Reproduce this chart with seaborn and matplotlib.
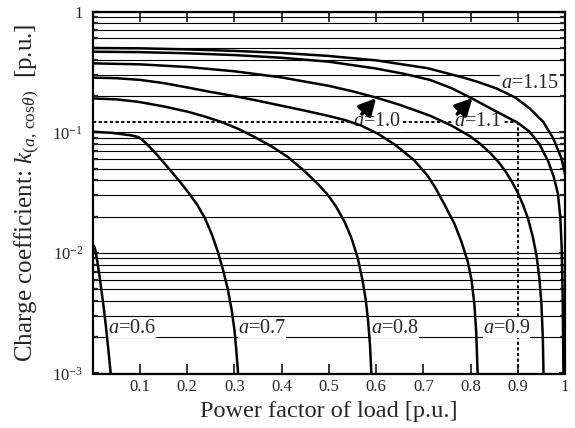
import numpy as np
import pandas as pd
import matplotlib
matplotlib.use("Agg")
import matplotlib.pyplot as plt
from matplotlib.ticker import FixedLocator, NullFormatter
import seaborn as sns

# Charge coefficient k(a, cos(theta)) versus load power factor, one curve per a
pf_060 = [0.0, 0.002, 0.004, 0.006, 0.008, 0.011, 0.0153, 0.020, 0.0245, 0.0287,
          0.032, 0.035, 0.038, 0.040]
k_060 = [0.0116, 0.0115, 0.0111, 0.0103, 0.0093, 0.0079, 0.0060, 0.0044, 0.0032, 0.0023,
         0.00172, 0.00132, 0.00100, 0.0008]

pf_070 = [0.0, 0.04, 0.08, 0.096, 0.105, 0.115, 0.131, 0.148, 0.166, 0.184, 0.2016,
          0.22, 0.237, 0.252, 0.265, 0.276, 0.286, 0.294, 0.300, 0.304, 0.307, 0.310]
k_070 = [0.101, 0.099, 0.0945, 0.0915, 0.0865, 0.0795, 0.0685, 0.0575, 0.0475, 0.0392, 0.0320,
         0.0255, 0.0196, 0.0143, 0.0102, 0.0072, 0.0050, 0.0034, 0.0023, 0.00155, 0.0011, 0.0007]

pf_080 = [0.0, 0.05, 0.096, 0.15, 0.2016, 0.24, 0.272, 0.31, 0.343, 0.38, 0.413, 0.445,
          0.477, 0.498, 0.515, 0.533, 0.548, 0.561, 0.571, 0.578, 0.583, 0.587, 0.590, 0.592]
k_080 = [0.191, 0.1875, 0.179, 0.164, 0.148, 0.134, 0.122, 0.106, 0.0912, 0.0759, 0.0624, 0.049,
         0.0372, 0.0302, 0.0243, 0.0182, 0.0132, 0.0091, 0.0060, 0.0041, 0.00275, 0.00174, 0.0010,
         0.00063]

pf_090 = [0.0, 0.05, 0.10, 0.15, 0.20, 0.25, 0.30, 0.343, 0.40, 0.45, 0.498, 0.535, 0.57,
          0.605, 0.639, 0.68, 0.709, 0.724, 0.745, 0.766, 0.78, 0.794, 0.802, 0.808, 0.812,
          0.815, 0.817]
k_090 = [0.284, 0.281, 0.272, 0.256, 0.2355, 0.216, 0.1995, 0.185, 0.166, 0.151, 0.137, 0.126,
         0.113, 0.0966, 0.0794, 0.059, 0.0437, 0.0355, 0.0251, 0.0174, 0.0126, 0.0085, 0.0060,
         0.0038, 0.0022, 0.0010, 0.0006]

pf_100 = [0.0, 0.10, 0.20, 0.30, 0.40, 0.50, 0.55, 0.60, 0.65, 0.714, 0.76, 0.80, 0.82,
          0.84, 0.86, 0.875, 0.889, 0.90, 0.912, 0.922, 0.932, 0.94, 0.946, 0.95, 0.953, 0.955]
k_100 = [0.373, 0.366, 0.348, 0.3206, 0.285, 0.2427, 0.2188, 0.194, 0.169, 0.1374, 0.1135,
         0.0922, 0.0804, 0.0684, 0.0562, 0.0468, 0.038, 0.0316, 0.0245, 0.0191, 0.0135, 0.00933,
         0.0060, 0.0038, 0.0020, 0.0008]

pf_110 = [0.0, 0.10, 0.20, 0.30, 0.40, 0.50, 0.60, 0.66, 0.714, 0.76, 0.804, 0.85, 0.90,
          0.925, 0.946, 0.964, 0.976, 0.985, 0.990, 0.993, 0.995, 0.996, 0.997]
k_110 = [0.466, 0.462, 0.452, 0.437, 0.415, 0.385, 0.338, 0.305, 0.272, 0.232, 0.190, 0.152,
         0.120, 0.101, 0.0795, 0.058, 0.043, 0.031, 0.020, 0.011, 0.0045, 0.0020, 0.0007]

pf_115 = [0.0, 0.10, 0.20, 0.30, 0.40, 0.498, 0.60, 0.709, 0.784, 0.815, 0.855, 0.895,
          0.925, 0.954, 0.975, 0.9925, 1.0]
k_115 = [0.500, 0.497, 0.487, 0.473, 0.455, 0.430, 0.395, 0.340, 0.285, 0.262, 0.231, 0.194,
         0.158, 0.122, 0.089, 0.061, 0.045]

curves = {
    "0.6": (pf_060, k_060),
    "0.7": (pf_070, k_070),
    "0.8": (pf_080, k_080),
    "0.9": (pf_090, k_090),
    "1.0": (pf_100, k_100),
    "1.1": (pf_110, k_110),
    "1.15": (pf_115, k_115),
}

# curve labels: a value, left edge (power factor), vertical centre (k), box padding
label_a = ["0.6", "0.7", "0.8", "0.9", "1.0", "1.1", "1.15"]
label_pf = [0.0323, 0.3074, 0.5895, 0.826, 0.551, 0.766, 0.865]
label_k = [0.00238, 0.00238, 0.00238, 0.00238, 0.1224, 0.1224, 0.255]
label_pad = [0.0, 0.0, 0.0, 0.0, 0.6, 0.6, 0.6]

# arrows from the a=1.0 / a=1.1 labels to their curves
arrow_tail_pf = [0.570, 0.772]
arrow_tail_k = [0.142, 0.142]
arrow_head_pf = [0.600, 0.804]
arrow_head_k = [0.192, 0.192]

example_pf = 0.9
example_k = 0.1224

x_ticks = [0.1, 0.2, 0.3, 0.4, 0.5, 0.6, 0.7, 0.8, 0.9, 1.0]
x_ticklabels = ["0.1", "0.2", "0.3", "0.4", "0.5", "0.6", "0.7", "0.8", "0.9", "1"]
y_ticks = [1e-3, 1e-2, 1e-1, 1.0]
y_ticklabels = [r"$10^{-3}$", r"$10^{-2}$", r"$10^{-1}$", "1"]

df = pd.concat(
    [pd.DataFrame({"pf": p, "k": k, "a": a}) for a, (p, k) in curves.items()],
    ignore_index=True,
)

sns.set_style("white")
plt.rcParams["font.family"] = ["Liberation Serif", "DejaVu Serif"]
plt.rcParams["mathtext.fontset"] = "custom"
plt.rcParams["mathtext.rm"] = "Liberation Serif"
plt.rcParams["mathtext.it"] = "Liberation Serif:italic"
plt.rcParams["mathtext.cal"] = "Liberation Serif:italic"

fig = plt.figure(figsize=(5.75, 4.28), dpi=100)
ax = fig.add_axes([92.75 / 575, 1 - 373.5 / 428, (565 - 92.75) / 575, (373.5 - 11.7) / 428])

ax.set_yscale("log")
ax.set_xlim(0, 1)
ax.set_ylim(1e-3, 1)

# horizontal grid at every decade and sub-decade
ax.yaxis.set_minor_locator(FixedLocator(
    [m * 10.0 ** e for e in (-3, -2, -1) for m in range(2, 10)]))
ax.yaxis.set_minor_formatter(NullFormatter())
ax.yaxis.grid(True, which="both", color="black", lw=0.8, zorder=1)
ax.xaxis.grid(False)

for a in label_a:
    sub = df[df["a"] == a]
    sns.lineplot(data=sub, x="pf", y="k", ax=ax, color="black", lw=1.8,
                 sort=False, estimator=None, legend=False, zorder=4)

# dotted reading lines
dot = (0, (1.6, 1.3))
ax.plot([0, example_pf], [example_k, example_k], color="black", lw=1.4, ls=dot, zorder=2)
ax.plot([example_pf, example_pf], [1e-3, example_k], color="black", lw=1.4, ls=dot, zorder=2)

for a, xp, yk, pd_ in zip(label_a, label_pf, label_k, label_pad):
    ax.text(xp, yk, r"$a$=" + a, fontsize=14.5, ha="left", va="center", zorder=3,
            bbox=dict(facecolor="white", edgecolor="none", pad=pd_))

for xt, yt, xh, yh in zip(arrow_tail_pf, arrow_tail_k, arrow_head_pf, arrow_head_k):
    ax.annotate("", xy=(xh, yh), xytext=(xt, yt),
                arrowprops=dict(arrowstyle="-|>,head_length=0.5,head_width=0.26",
                                lw=2.6, color="black", mutation_scale=20,
                                shrinkA=0, shrinkB=0), zorder=5)

ax.set_xticks(x_ticks)
ax.set_xticklabels(x_ticklabels)
ax.set_yticks(y_ticks)
ax.set_yticklabels(y_ticklabels)

ax.tick_params(axis="x", which="major", direction="in", top=True, bottom=True,
               length=7.5, width=1.3, labelsize=12, pad=4)
ax.tick_params(axis="y", which="major", direction="in", left=True, right=True,
               length=4, width=1.6, labelsize=12, pad=7)
ax.tick_params(axis="y", which="minor", direction="in", left=True, right=True,
               length=3.5, width=1.6)

for s in ax.spines.values():
    s.set_linewidth(1.6)
    s.set_color("black")

ax.set_xlabel("Power factor of load [p.u.]", fontsize=17.5, labelpad=4)
ax.set_ylabel(r"Charge coefficient: $k_{(a,\,\mathrm{cos}\theta)}$  [p.u.]",
              fontsize=18, labelpad=8)

fig.savefig("out.png", dpi=100)
